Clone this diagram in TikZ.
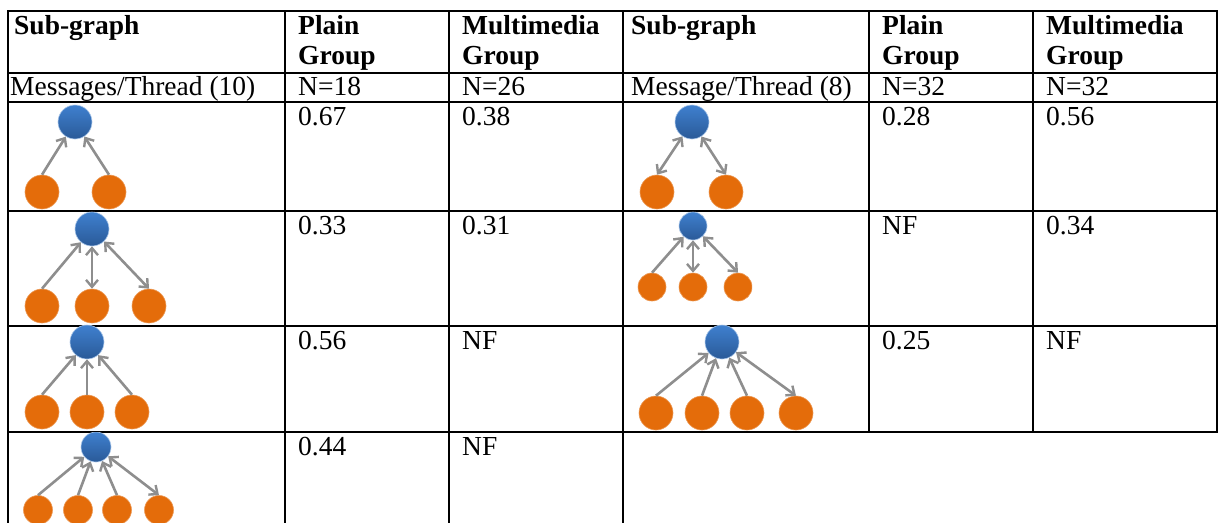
\documentclass[tikz,border=0pt]{standalone}
\usepackage{fontspec}
\setmainfont{Liberation Serif}
\usetikzlibrary{arrows.meta}
\definecolor{nodetop}{HTML}{3F80CF}
\definecolor{nodebot}{HTML}{2A5A98}
\definecolor{leaf}{HTML}{E46C0A}
\definecolor{edge}{HTML}{8E8E8E}
\tikzset{
  grid/.style={line width=2.8pt, line cap=rect},
  cell/.style={anchor=base west, inner sep=0pt, font=\fontsize{27.5}{30}\selectfont},
  head/.style={cell, font=\fontsize{27.5}{30}\selectfont\bfseries, align=left},
  root/.style={circle, inner sep=0pt, minimum size=#1, top color=nodetop, bottom color=nodebot, draw=nodetop!45!white, line width=0.6pt},
  kid/.style={circle, inner sep=0pt, minimum size=#1, fill=leaf, draw=leaf!70!white, line width=0.6pt},
  arr/.style={draw=edge, line width=2.6pt, -{Straight Barb[length=7pt,width=12pt,line width=2.4pt]}},
  darr/.style={draw=edge, line width=2.6pt, {Straight Barb[length=7pt,width=12pt,line width=2.4pt]}-{Straight Barb[length=7pt,width=12pt,line width=2.4pt]}},
}
\begin{document}
\begin{tikzpicture}[x=1pt, y=-1pt]
\useasboundingbox (0,0) rectangle (1220,522);
\clip (0,0) rectangle (1220,522);
\fill[white] (0,0) rectangle (1220,522);

% ---- table rules ----
\foreach \yy in {11,73,102,211,326,432}
  \draw[grid] (8,\yy) -- (1217,\yy);
\foreach \xx in {8,285,449,623}
  \draw[grid] (\xx,11) -- (\xx,530);
\foreach \xx in {869,1033,1217}
  \draw[grid] (\xx,11) -- (\xx,432);

% ---- header (base anchor sits on the second line) ----
\node[head] (h1) at (14,34) {Sub-graph};
\node[head] (h2) at (298,64) {Plain\\Group};
\node[head] (h3) at (462,64) {Multimedia\\Group};
\node[head] (h4) at (631,34) {Sub-graph};
\node[head] (h5) at (882,64) {Plain\\Group};
\node[head] (h6) at (1046,64) {Multimedia\\Group};

\node[cell] (n1) at (10,95) {Messages/Thread (10)};
\node[cell] (n2) at (298,95) {N=18};
\node[cell] (n3) at (462,95) {N=26};
\node[cell] (n4) at (631,95) {Message/Thread (8)};
\node[cell] (n5) at (882,95) {N=32};
\node[cell] (n6) at (1046,95) {N=32};

% ---- values ----
\node[cell] (v11) at (298,125) {0.67};
\node[cell] (v12) at (462,125) {0.38};
\node[cell] (v13) at (882,125) {0.28};
\node[cell] (v14) at (1046,125) {0.56};
\node[cell] (v21) at (298,234) {0.33};
\node[cell] (v22) at (462,234) {0.31};
\node[cell] (v23) at (882,234) {NF};
\node[cell] (v24) at (1046,234) {0.34};
\node[cell] (v31) at (298,349) {0.56};
\node[cell] (v32) at (462,349) {NF};
\node[cell] (v33) at (882,349) {0.25};
\node[cell] (v34) at (1046,349) {NF};
\node[cell] (v41) at (298,455) {0.44};
\node[cell] (v42) at (462,455) {NF};

% ---- left: two replies to the root ----
\node[root=34pt] (a) at (75,122) {};
\node[kid=34pt] (a1) at (42,192) {};
\node[kid=34pt] (a2) at (109,192) {};
\draw[arr] (a1.north) -- (a);
\draw[arr] (a2.north) -- (a);

% ---- left: three replies, two two-way ----
\node[root=34pt] (b) at (92,229) {};
\node[kid=34pt] (b1) at (42,306) {};
\node[kid=34pt] (b2) at (92,306) {};
\node[kid=34pt] (b3) at (149,306) {};
\draw[arr] (b1.north) -- (b);
\draw[darr] (b) -- (b2);
\draw[darr] (b) -- (b3.north);

% ---- left: three replies ----
\node[root=34pt] (c) at (87,342) {};
\node[kid=34pt] (c1) at (42,412) {};
\node[kid=34pt] (c2) at (87,412) {};
\node[kid=34pt] (c3) at (132,412) {};
\draw[arr] (c1.north) -- (c);
\draw[arr] (c2) -- (c);
\draw[arr] (c3.north) -- (c);

% ---- left: four replies, one two-way ----
\begin{scope}
\clip (8,432) rectangle (174,522);
\node[root=30pt] (d) at (96,447) {};
\node[kid=29pt] (d1) at (38,510) {};
\node[kid=29pt] (d2) at (78,510) {};
\node[kid=29pt] (d3) at (117,510) {};
\node[kid=29pt] (d4) at (159,510) {};
\draw[arr] (d1.north) -- (d);
\draw[arr] (d2.north) -- (d);
\draw[arr] (d3.north) -- (d);
\draw[darr] (d) -- (d4.north);
\end{scope}

% ---- right: two two-way replies ----
\node[root=34pt] (e) at (692,122) {};
\node[kid=34pt] (e1) at (657,192) {};
\node[kid=34pt] (e2) at (726,192) {};
\draw[darr] (e) -- (e1.north);
\draw[darr] (e) -- (e2.north);

% ---- right: three replies, two two-way ----
\begin{scope}
\clip (623,211) rectangle (752,326);
\node[root=28pt] (f) at (693,226) {};
\node[kid=28pt] (f1) at (652,287) {};
\node[kid=28pt] (f2) at (693,287) {};
\node[kid=28pt] (f3) at (738,287) {};
\draw[arr] (f1.north) -- (f);
\draw[darr] (f) -- (f2);
\draw[darr] (f) -- (f3.north);
\end{scope}

% ---- right: four replies, one two-way ----
\node[root=34pt] (g) at (722,342) {};
\node[kid=34pt] (g1) at (656,413) {};
\node[kid=34pt] (g2) at (702,413) {};
\node[kid=34pt] (g3) at (747,413) {};
\node[kid=34pt] (g4) at (796,413) {};
\draw[arr] (g1.north) -- (g);
\draw[arr] (g2.north) -- (g);
\draw[arr] (g3.north) -- (g);
\draw[darr] (g) -- (g4.north);
\end{tikzpicture}
\end{document}
